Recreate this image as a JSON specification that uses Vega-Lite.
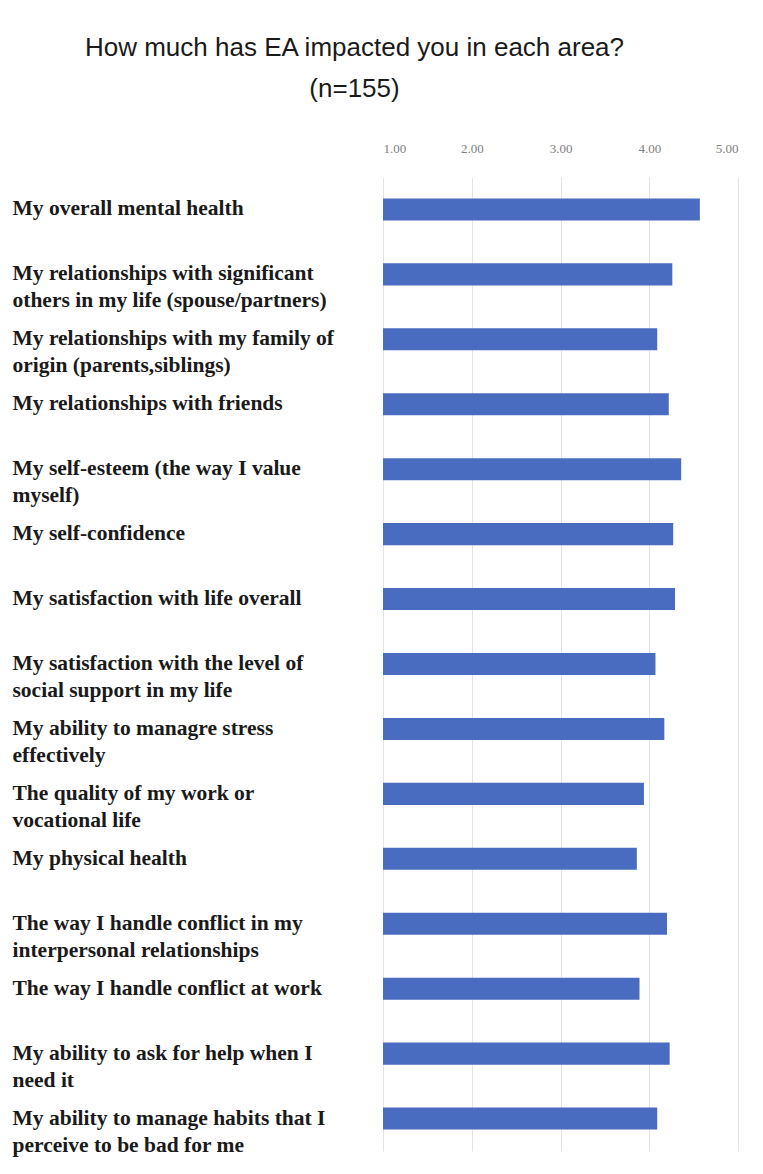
{
  "$schema": "https://vega.github.io/schema/vega-lite/v6.json",
  "autosize": "none",
  "width": 355,
  "height": 974,
  "padding": {"left": 383, "top": 177, "right": 25, "bottom": 23},
  "background": "white",
  "title": {
    "text": ["How much has EA impacted you in each area?", "(n=155)"],
    "anchor": "middle",
    "frame": "group",
    "dx": -206,
    "offset": 40,
    "font": "Liberation Sans Narrow, Liberation Sans",
    "fontSize": 26,
    "fontWeight": "normal",
    "lineHeight": 41,
    "color": "#1a1a1a"
  },
  "data": {
    "values": [
      {"area": "My overall mental health", "score": 4.57},
      {"area": "My relationships with significant|others in my life (spouse/partners)", "score": 4.26},
      {"area": "My relationships with my family of|origin (parents,siblings)", "score": 4.09},
      {"area": "My relationships with friends", "score": 4.22},
      {"area": "My self-esteem (the way I value|myself)", "score": 4.36},
      {"area": "My self-confidence", "score": 4.27},
      {"area": "My satisfaction with life overall", "score": 4.29},
      {"area": "My satisfaction with the level of|social support in my life", "score": 4.07},
      {"area": "My ability to managre stress|effectively", "score": 4.17},
      {"area": "The quality of my work or|vocational life", "score": 3.94},
      {"area": "My physical health", "score": 3.86},
      {"area": "The way I handle conflict in my|interpersonal relationships", "score": 4.20},
      {"area": "The way I handle conflict at work", "score": 3.89},
      {"area": "My ability to ask for help when I|need it", "score": 4.23},
      {"area": "My ability to manage habits that I|perceive to be bad for me", "score": 4.09}
    ]
  },
  "mark": {"type": "bar", "color": "#4a6cc0"},
  "encoding": {
    "y": {
      "field": "area",
      "type": "nominal",
      "sort": null,
      "scale": {"paddingInner": 0.66, "paddingOuter": 0.33},
      "axis": {
        "title": null,
        "orient": "left",
        "ticks": false,
        "domain": false,
        "labelAlign": "left",
        "labelPadding": 371,
        "labelFont": "Liberation Serif",
        "labelFontWeight": "bold",
        "labelFontSize": 21.5,
        "labelColor": "#1a1a1a",
        "labelLineHeight": 27,
        "labelLimit": 400,
        "labelExpr": "split(datum.value, '|')"
      }
    },
    "x": {
      "field": "score",
      "type": "quantitative",
      "scale": {"domain": [1, 5], "zero": false, "nice": false},
      "axis": {
        "title": null,
        "orient": "top",
        "values": [1, 2, 3, 4, 5],
        "format": ".2f",
        "ticks": false,
        "domain": false,
        "grid": true,
        "gridColor": "#e3e3e3",
        "gridWidth": 1,
        "labelPadding": 22,
        "labelFont": "Liberation Serif",
        "labelFontSize": 13,
        "labelColor": "#808080"
      }
    },
    "x2": {"datum": 1}
  },
  "config": {"view": {"stroke": null}}
}
